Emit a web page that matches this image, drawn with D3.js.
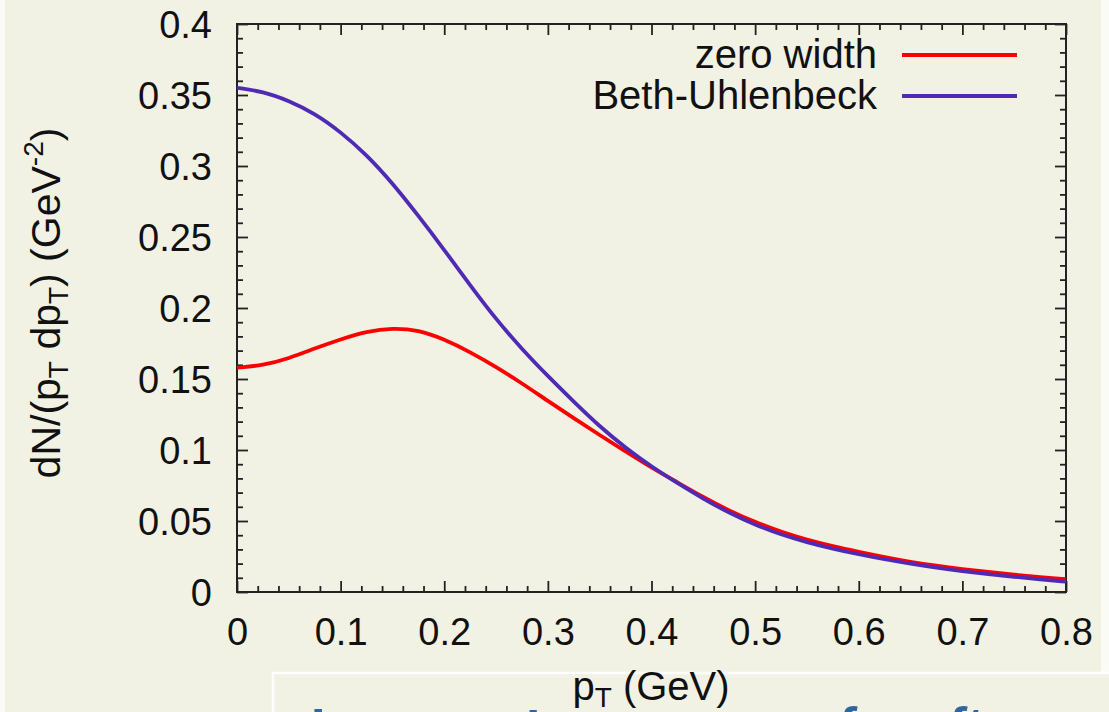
<!DOCTYPE html>
<html>
<head>
<meta charset="utf-8">
<script src="https://cdn.jsdelivr.net/npm/d3@7"></script>
<style>
  html, body { margin: 0; padding: 0; background: #fbfbf6; }
  svg { display: block; }
  text { font-family: "Liberation Sans", Arial, Helvetica, sans-serif; fill: #111; }
</style>
</head>
<body>
<svg id="chart" width="1109" height="712"></svg>
<script>
// ---- data ----
const pT = [0, 0.025, 0.05, 0.075, 0.1, 0.125, 0.15, 0.175, 0.2, 0.225, 0.25, 0.275, 0.3, 0.325, 0.35, 0.375, 0.4,
            0.425, 0.45, 0.475, 0.5, 0.525, 0.55, 0.575, 0.6, 0.625, 0.65, 0.675, 0.7, 0.725, 0.75, 0.775, 0.8];
const zeroWidth = [0.158, 0.1595, 0.1645, 0.1715, 0.178, 0.1835, 0.186, 0.1845, 0.178, 0.169, 0.1585, 0.147, 0.1345, 0.1225, 0.1105, 0.099, 0.0875,
                   0.0772, 0.0668, 0.0572, 0.0492, 0.0424, 0.0367, 0.0322, 0.0283, 0.0246, 0.0212, 0.0184, 0.0161, 0.0141, 0.0122, 0.0105, 0.0089];
const bethUhlenbeck = [0.355, 0.3525, 0.346, 0.337, 0.324, 0.308, 0.288, 0.265, 0.241, 0.216, 0.192, 0.171, 0.152, 0.134, 0.1165, 0.1015, 0.0883,
                       0.0767, 0.0656, 0.0557, 0.0473, 0.0404, 0.0350, 0.0305, 0.0265, 0.0230, 0.0199, 0.0171, 0.0147, 0.0126, 0.0107, 0.0089, 0.0073];
const seriesNames = ["zero width", "Beth-Uhlenbeck"];
const seriesColors = ["#ff0000", "#4f2bb5"];
const xTicks = [0, 0.1, 0.2, 0.3, 0.4, 0.5, 0.6, 0.7, 0.8];
const xTickLabels = ["0", "0.1", "0.2", "0.3", "0.4", "0.5", "0.6", "0.7", "0.8"];
const yTicks = [0, 0.05, 0.1, 0.15, 0.2, 0.25, 0.3, 0.35, 0.4];
const yTickLabels = ["0", "0.05", "0.1", "0.15", "0.2", "0.25", "0.3", "0.35", "0.4"];
const xMinor = d3.range(0, 41).map(i => i * 0.02).filter((d, i) => i % 5 !== 0);
const yMinor = d3.range(0, 41).map(i => i * 0.01).filter((d, i) => i % 5 !== 0);

// ---- layout ----
const L = 237, R = 1066, T = 24, B = 592;
const svg = d3.select("#chart");

// background panels
svg.append("rect").attr("x", 5).attr("y", 0).attr("width", 1096).attr("height", 712).attr("fill", "#f1f1e4");
// white-edged box at bottom
svg.append("rect").attr("x", 273).attr("y", 673).attr("width", 840).attr("height", 60)
   .attr("fill", "#f1f1e4").attr("stroke", "#ffffff").attr("stroke-width", 2.5);

const x = d3.scaleLinear().domain([0, 0.8]).range([L, R]);
const y = d3.scaleLinear().domain([0, 0.4]).range([B, T]);

const tickStyle = g => {
  g.select(".domain").remove();
  g.selectAll(".tick line").attr("stroke", "#222").attr("stroke-width", 1.8);
};

// major/minor ticks on all four sides (inward)
svg.append("g").attr("transform", `translate(0,${B})`)
  .call(d3.axisBottom(x).tickValues(xTicks).tickSize(-11).tickPadding(26).tickFormat((d, i) => xTickLabels[i]))
  .call(tickStyle)
  .call(g => g.selectAll("text").attr("font-size", 38).attr("fill", "#111")
     .attr("font-family", '"Liberation Sans", Arial, sans-serif'));
svg.append("g").attr("transform", `translate(0,${B})`)
  .call(d3.axisBottom(x).tickValues(xMinor).tickSize(-6).tickFormat("")).call(tickStyle);
svg.append("g").attr("transform", `translate(0,${T})`)
  .call(d3.axisTop(x).tickValues(xTicks).tickSize(-11).tickFormat("")).call(tickStyle);
svg.append("g").attr("transform", `translate(0,${T})`)
  .call(d3.axisTop(x).tickValues(xMinor).tickSize(-6).tickFormat("")).call(tickStyle);

svg.append("g").attr("transform", `translate(${L},0)`)
  .call(d3.axisLeft(y).tickValues(yTicks).tickSize(-11).tickPadding(25).tickFormat((d, i) => yTickLabels[i]))
  .call(tickStyle)
  .call(g => g.selectAll("text").attr("font-size", 38).attr("fill", "#111").attr("dy", "0.36em")
     .attr("font-family", '"Liberation Sans", Arial, sans-serif'));
svg.append("g").attr("transform", `translate(${L},0)`)
  .call(d3.axisLeft(y).tickValues(yMinor).tickSize(-6).tickFormat("")).call(tickStyle);
svg.append("g").attr("transform", `translate(${R},0)`)
  .call(d3.axisRight(y).tickValues(yTicks).tickSize(-11).tickFormat("")).call(tickStyle);
svg.append("g").attr("transform", `translate(${R},0)`)
  .call(d3.axisRight(y).tickValues(yMinor).tickSize(-6).tickFormat("")).call(tickStyle);

// frame
svg.append("rect").attr("x", L).attr("y", T).attr("width", R - L).attr("height", B - T)
   .attr("fill", "none").attr("stroke", "#222").attr("stroke-width", 2);

// curves
svg.append("clipPath").attr("id", "plotclip").append("rect")
   .attr("x", L).attr("y", T).attr("width", R - L).attr("height", B - T);
const series = [zeroWidth, bethUhlenbeck];
const line = d3.line().x((d, i) => x(pT[i])).y(d => y(d)).curve(d3.curveBasis);
series.forEach((s, k) => {
  svg.append("path").datum(s).attr("clip-path", "url(#plotclip)")
     .attr("fill", "none").attr("stroke", seriesColors[k]).attr("stroke-width", 3.8)
     .attr("stroke-linejoin", "round").attr("d", line);
});

// legend
const legY = [55, 96];
seriesNames.forEach((n, k) => {
  svg.append("text").attr("x", 877).attr("y", legY[k] + 13).attr("text-anchor", "end")
     .attr("font-size", 40).text(n);
  svg.append("line").attr("x1", 902).attr("x2", 1017).attr("y1", legY[k]).attr("y2", legY[k])
     .attr("stroke", seriesColors[k]).attr("stroke-width", 3.8);
});

// y axis title
const yt = svg.append("text").attr("transform", "translate(60,303) rotate(-90)")
   .attr("text-anchor", "middle").attr("font-size", 41);
yt.append("tspan").text("dN/(p");
yt.append("tspan").attr("font-size", 28).attr("dy", 8).text("T");
yt.append("tspan").attr("dy", -8).text(" dp");
yt.append("tspan").attr("font-size", 28).attr("dy", 8).text("T");
yt.append("tspan").attr("dy", -8).text(") (GeV");
yt.append("tspan").attr("font-size", 28).attr("dy", -17).text("-2");
yt.append("tspan").attr("dy", 17).text(")");

// x axis title
const xt = svg.append("text").attr("x", 651).attr("y", 700).attr("text-anchor", "middle").attr("font-size", 40);
xt.append("tspan").text("p");
xt.append("tspan").attr("font-size", 28).attr("dy", 7).text("T");
xt.append("tspan").attr("dy", -7).text(" (GeV)");

// partially visible heading below (cut off by the page edge)
const headGlyphs = [["I", 311, 745], ["i", 526, 748], ["f", 836, 744], ["ft", 946, 744]];
headGlyphs.forEach(([t, px, py]) => {
  svg.append("text").attr("x", px).attr("y", py).attr("font-size", 52)
     .attr("font-family", '"Liberation Serif", "DejaVu Serif", serif').attr("font-weight", "bold")
     .attr("font-style", t === "I" || t === "i" ? "normal" : "italic")
     .style("fill", "#2f66a0").text(t);
});
</script>
</body>
</html>
